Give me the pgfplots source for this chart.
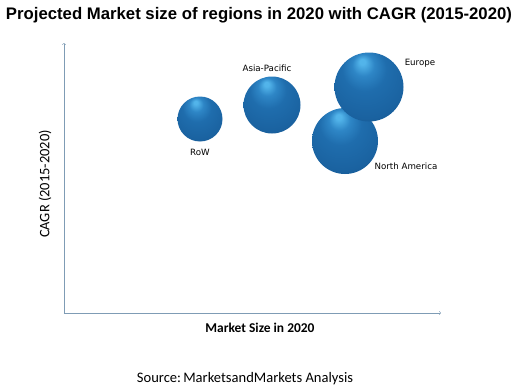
\documentclass[border=0pt]{standalone}
\usepackage{fontspec}
\setmainfont{Carlito}
\newfontfamily\titlefont{Liberation Sans}
\newfontfamily\lblfont{DejaVu Sans}
\usepackage{pgfplots}
\pgfplotsset{compat=1.18}
\definecolor{axcol}{HTML}{7F9CB5}
\definecolor{bhl}{HTML}{52B4EA}
\definecolor{bb1}{HTML}{2E86C6}
\definecolor{bb2}{HTML}{1F6DAD}
\definecolor{bb3}{HTML}{1A62A0}
\definecolor{bb4}{HTML}{134F86}
\definecolor{bb5}{HTML}{0D3B68}
\definecolor{bb6}{HTML}{164A7A}
\pgfdeclareradialshading{myball}{\pgfpoint{-5bp}{19bp}}{%
  color(0bp)=(bhl); color(2bp)=(bhl); color(8bp)=(bb1); color(16bp)=(bb2);
  color(30bp)=(bb3); color(40bp)=(bb4); color(47bp)=(bb5); color(50bp)=(bb6)}
\begin{document}
\begin{tikzpicture}
\useasboundingbox (-64bp,-76bp) rectangle (467bp,313bp);
\begin{axis}[
  scale only axis, width=377bp, height=270bp,
  xmin=0, xmax=377, ymin=0, ymax=270,
  axis lines=left,
  axis line style={->, line width=0.5pt, color=axcol},
  xtick=\empty, ytick=\empty,
  clip=false,
  xlabel={}, ylabel={},
]
\addplot[only marks, mark=*, mark options={draw=none, fill=none},
  visualization depends on={\thisrow{r} \as \rr},
  nodes near coords={},
  every node near coord/.style={anchor=center, circle, inner sep=0pt,
     minimum size=2*\rr bp, shading=myball}]
  table {
x y r
136 194 22.5
208 208 28.5
281 172 33
305 226 34.5
};
\node[font=\lblfont\fontsize{8.7}{10}\selectfont] at (axis cs:136,161) {RoW};
\node[font=\lblfont\fontsize{8.7}{10}\selectfont] at (axis cs:203,245) {Asia-Pacific};
\node[font=\lblfont\fontsize{8.7}{10}\selectfont] at (axis cs:356,250) {Europe};
\node[font=\lblfont\fontsize{8.7}{10}\selectfont] at (axis cs:342,147) {North America};
\node[font=\bfseries\fontsize{13.5}{15}\selectfont] at (axis cs:196,-15) {Market Size in 2020};
\node[font=\fontsize{14.5}{16}\selectfont, rotate=90] at (axis cs:-19,129) {CAGR (2015-2020)};
\node[font=\titlefont\bfseries\fontsize{16.8}{18}\selectfont] at (axis cs:195,298) {Projected Market size of regions in 2020 with CAGR (2015-2020)};
\node[font=\fontsize{14.6}{16}\selectfont] at (axis cs:181,-66) {Source:\hspace{-0.15em} MarketsandMarkets Analysis};
\end{axis}
\end{tikzpicture}
\end{document}
